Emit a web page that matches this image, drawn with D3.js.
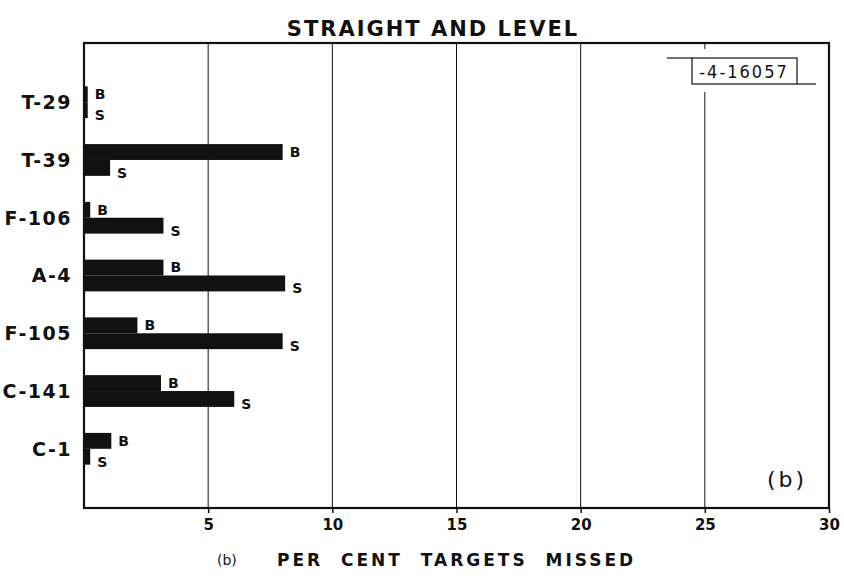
<!DOCTYPE html>
<html>
<head>
<meta charset="utf-8">
<script src="https://cdn.jsdelivr.net/npm/d3@7"></script>
<style>
  body { margin: 0; background: #fff; }
  text { font-family: "DejaVu Sans", sans-serif; fill: #111; }
</style>
</head>
<body>
<svg id="chart" width="844" height="582"></svg>
<script>
let aircraft = ["T-29", "T-39", "F-106", "A-4", "F-105", "C-141", "C-1"];
let bValues = [0.15, 8.0, 0.25, 3.2, 2.15, 3.1, 1.1];
let sValues = [0.15, 1.05, 3.2, 8.1, 8.0, 6.05, 0.25];
let xTicks = [5, 10, 15, 20, 25, 30];

let svg = d3.select("#chart");
let plotLeft = 84, plotRight = 829, plotTop = 43, plotBottom = 508;
let ink = "#111";

let x = d3.scaleLinear().domain([0, 30]).range([plotLeft, plotRight]);
let y = d3.scaleBand()
  .domain(aircraft)
  .range([plotTop, plotBottom])
  .paddingOuter(0.75)
  .paddingInner(0.45);
let sub = d3.scaleBand().domain(["B", "S"]).range([0, y.bandwidth()]);

// title
svg.append("text")
  .attr("x", 433).attr("y", 36)
  .attr("text-anchor", "middle")
  .style("font-size", "21px").style("font-weight", "bold")
  .style("letter-spacing", "2px")
  .text("STRAIGHT AND LEVEL");

// grid lines
svg.selectAll(".grid")
  .data(xTicks.slice(0, -1))
  .enter()
  .append("line")
  .attr("x1", d => x(d)).attr("x2", d => x(d))
  .attr("y1", plotTop).attr("y2", plotBottom)
  .attr("stroke", ink).attr("stroke-width", 1);

// id box in top right
svg.append("rect")
  .attr("x", 666).attr("y", 49).attr("width", 150).attr("height", 43)
  .attr("fill", "#fff");
svg.append("rect")
  .attr("x", 692).attr("y", 58).attr("width", 105).attr("height", 26)
  .attr("fill", "#fff").attr("stroke", ink).attr("stroke-width", 1.2);
svg.append("line").attr("x1", 667).attr("x2", 692).attr("y1", 58).attr("y2", 58)
  .attr("stroke", ink).attr("stroke-width", 1.2);
svg.append("line").attr("x1", 797).attr("x2", 816).attr("y1", 84).attr("y2", 84)
  .attr("stroke", ink).attr("stroke-width", 1.2);
svg.append("text")
  .attr("x", 744).attr("y", 78)
  .attr("text-anchor", "middle")
  .style("font-size", "18px")
  .style("font-family", "DejaVu Sans Condensed, DejaVu Sans")
  .style("letter-spacing", "2px")
  .text("-4-16057");

// bars
let rows = aircraft.map((a, i) => ({ name: a, B: bValues[i], S: sValues[i] }));
let groups = svg.selectAll(".row")
  .data(rows)
  .enter()
  .append("g")
  .attr("transform", d => "translate(0," + y(d.name) + ")");

["B", "S"].forEach(function(k) {
  groups.append("rect")
    .attr("x", x(0))
    .attr("y", sub(k))
    .attr("width", d => x(d[k]) - x(0))
    .attr("height", sub.bandwidth())
    .attr("fill", ink);
  groups.append("text")
    .attr("x", d => x(d[k]) + 7)
    .attr("y", sub(k) + sub.bandwidth() / 2 + (k == "B" ? 0 : 5))
    .attr("dy", "0.35em")
    .style("font-size", "14px").style("font-weight", "bold")
    .text(k);
});

// frame
svg.append("rect")
  .attr("x", plotLeft).attr("y", plotTop)
  .attr("width", plotRight - plotLeft).attr("height", plotBottom - plotTop)
  .attr("fill", "none").attr("stroke", ink).attr("stroke-width", 2.2);

// x axis
let xAxis = svg.append("g")
  .attr("transform", "translate(0," + plotBottom + ")")
  .call(d3.axisBottom(x).tickValues(xTicks).tickSize(5).tickSizeOuter(0));
xAxis.select(".domain").remove();
xAxis.selectAll("line").attr("stroke", ink).attr("stroke-width", 1.5);
xAxis.selectAll("text")
  .attr("dy", "0.95em")
  .style("font-size", "15px").style("font-weight", "bold");

// y axis labels
svg.append("g").selectAll("text")
  .data(aircraft)
  .enter()
  .append("text")
  .attr("x", 72)
  .attr("y", d => y(d) + y.bandwidth() / 2)
  .attr("dy", "0.36em")
  .attr("text-anchor", "end")
  .style("font-size", "19px").style("font-weight", "bold")
  .style("letter-spacing", "1.5px")
  .text(d => d);

// axis title
svg.append("text")
  .attr("x", 217).attr("y", 565)
  .style("font-size", "14px")
  .text("(b)");
svg.append("text")
  .attr("x", 277).attr("y", 566)
  .style("font-size", "17px").style("font-weight", "bold")
  .style("letter-spacing", "3px")
  .attr("xml:space", "preserve")
  .text("PER  CENT  TARGETS  MISSED");

// panel label
svg.append("text")
  .attr("x", 767).attr("y", 487)
  .style("font-size", "22px")
  .style("letter-spacing", "3px")
  .text("(b)");
</script>
</body>
</html>
